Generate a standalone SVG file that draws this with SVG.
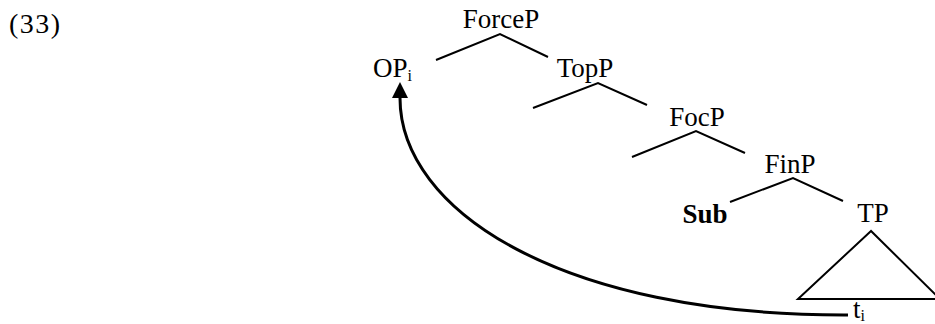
<svg xmlns="http://www.w3.org/2000/svg" width="935" height="324" viewBox="0 0 935 324">
<defs>
<style>
text{font-family:"Liberation Serif","Times New Roman",serif;font-size:27px;fill:#000}
.lab{text-anchor:middle}
.sub{font-size:16px}
.b{font-weight:bold}
.edge{fill:none;stroke:#000;stroke-width:2}
.move{fill:none;stroke:#000;stroke-width:3}
</style>
<marker id="ah" markerUnits="userSpaceOnUse" markerWidth="16" markerHeight="16" viewBox="0 0 15 15" refX="0" refY="7.5" orient="auto">
<path d="M0,0 L15,7.5 L0,15 z" fill="#000"/>
</marker>
</defs>
<rect width="935" height="324" fill="#fff"/>
<text id="ex-num" x="9" y="33" style="font-size:28px;letter-spacing:1.5px">(33)</text>
<g id="ForceP"><text class="lab" x="501" y="28">ForceP</text></g>
<g id="OP"><text x="373" y="77">OP<tspan class="sub" dy="4">i</tspan></text></g>
<g id="TopP"><text class="lab" x="585" y="77">TopP</text></g>
<g id="FocP"><text class="lab" x="697" y="126">FocP</text></g>
<g id="FinP"><text class="lab" x="790" y="173">FinP</text></g>
<g id="Sub"><text class="lab b" x="705" y="223">Sub</text></g>
<g id="TP"><text class="lab" x="873" y="222">TP</text>
<polygon class="edge" points="871,231 798,299 940,299"/></g>
<g id="trace"><text x="853" y="318">t<tspan class="sub" dy="3">i</tspan></text></g>
<g id="connectors">
<polyline class="edge" points="436,60 500,34 548,57"/>
<polyline class="edge" points="533,108 598,83 647,105"/>
<polyline class="edge" points="632,157 696,131 745,153"/>
<polyline class="edge" points="730,202 793,178 843,201"/>
<path class="move" d="M848,315 C560,316 400,210 400,98" marker-end="url(#ah)"/>
</g>
</svg>
